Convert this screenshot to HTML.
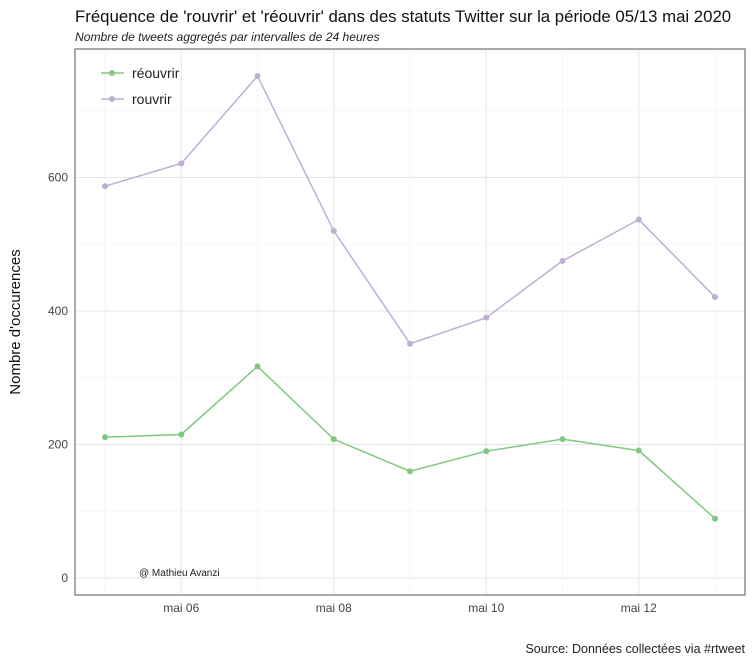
<!DOCTYPE html>
<html><head><meta charset="utf-8"><style>
body{margin:0;background:#fff;font-family:"Liberation Sans",sans-serif}
</style></head><body>
<svg id="c" width="754" height="663" xmlns="http://www.w3.org/2000/svg">
<text x="75" y="22" font-size="16.8" fill="#111">Fréquence de 'rouvrir' et 'réouvrir' dans des statuts Twitter sur la période 05/13 mai 2020</text>
<text x="75" y="41" font-size="12.1" font-style="italic" fill="#222">Nombre de tweets aggregés par intervalles de 24 heures</text>
<g id="grid"></g>
<rect x="75" y="49" width="670" height="546" fill="none" stroke="#555" stroke-width="1"/>
<g id="marks"></g>
<g id="axes"></g>
<text x="20" y="322" font-size="15" fill="#111" text-anchor="middle" transform="rotate(-90 20 322)">Nombre d'occurences</text>
<text x="139" y="576" font-size="10" fill="#222">@ Mathieu Avanzi</text>
<text x="745" y="653" font-size="12.5" fill="#222" text-anchor="end">Source: Données collectées via #rtweet</text>
<g>
<line x1="101" y1="73" x2="124" y2="73" stroke="#7fc97f" stroke-width="1.5"/><circle cx="112" cy="73" r="3" fill="#7fc97f"/>
<text x="132" y="78" font-size="14" fill="#222">réouvrir</text>
<line x1="101" y1="99" x2="124" y2="99" stroke="#beaed4" stroke-width="1.5"/><circle cx="112" cy="99" r="3" fill="#beaed4"/>
<text x="132" y="104" font-size="14" fill="#222">rouvrir</text>
</g>
</svg>
<script>
const days=[5,6,7,8,9,10,11,12,13];
const rouvrir=[587,621,752,520,351,390,475,537,421];
const reouvrir=[211,215,317,208,160,190,208,191,89];
const yTicks=[0,200,400,600];
const xTickDays=[6,8,10,12];
const xTickLabels=["mai 06","mai 08","mai 10","mai 12"];
const NS="http://www.w3.org/2000/svg";
const X=d=>105+(d-5)*76.25;
const Y=v=>578-v*0.6675;
function mk(p,t,a){const e=document.createElementNS(NS,t);for(const k in a)e.setAttribute(k,a[k]);document.getElementById(p).appendChild(e);return e;}
for(let v=-100;v<=800;v+=100){const y=Y(v);if(y<50||y>594)continue;
 const g=mk('grid','line',{x1:76,x2:744,y1:y,y2:y,stroke:v%200===0?'#e6e6e6':'#f2f2f2','stroke-width':v%200===0?1:0.6});
 
 }
for(let d=5;d<=13;d++){const x=X(d);
 const g=mk('grid','line',{x1:x,x2:x,y1:50,y2:594,stroke:d%2===0?'#e6e6e6':'#f2f2f2','stroke-width':d%2===0?1:0.6});
 
 }
yTicks.forEach(v=>{const t=mk('axes','text',{x:68,y:Y(v)+4,'font-size':12,fill:'#444','text-anchor':'end'});t.textContent=v;
 
 });
xTickDays.forEach((d,i)=>{const t=mk('axes','text',{x:X(d),y:612,'font-size':12,fill:'#444','text-anchor':'middle'});t.textContent=xTickLabels[i];
 
 });
function series(vals,col,name){
 const p=mk('marks','polyline',{points:vals.map((v,i)=>X(days[i])+','+Y(v)).join(' '),fill:'none',stroke:col,'stroke-width':1.5});
 
 
 vals.forEach((v,i)=>{const c=mk('marks','circle',{cx:X(days[i]),cy:Y(v),r:3,fill:col});
  
  });
}
series(rouvrir,'#beaed4','rouvrir');
series(reouvrir,'#7fc97f','reouvrir');
</script>
</body></html>
